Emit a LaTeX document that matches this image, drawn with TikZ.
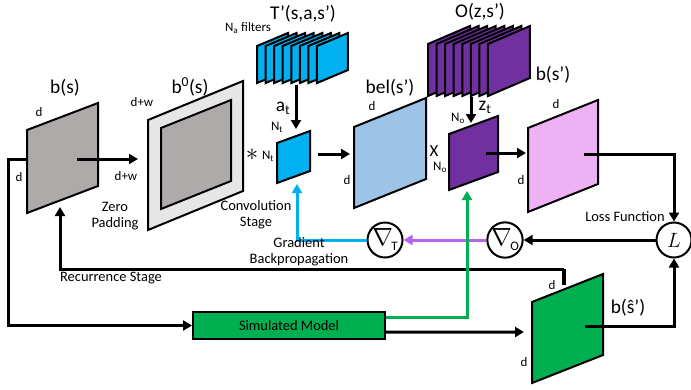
\documentclass[tikz,border=0pt]{standalone}
\usepackage{fontspec}
\setmainfont{Carlito}
\usetikzlibrary{arrows.meta}
\definecolor{pgray}{HTML}{AEAAAA}
\definecolor{lgray}{HTML}{E7E6E6}
\definecolor{pblue}{HTML}{00B0F0}
\definecolor{lblue}{HTML}{9DC3E6}
\definecolor{ppurple}{HTML}{7030A0}
\definecolor{ppink}{HTML}{EFB1F6}
\definecolor{pgreen}{HTML}{00B050}
\definecolor{pviolet}{HTML}{B464EE}
\newcommand\myplane[6]{\filldraw[plane,fill=#1] (#2,#3) -- ++(#4,-#6) -- ++(0,#5) -- ++(-#4,#6) -- cycle;}
\begin{document}
\begin{tikzpicture}[x=1bp,y=-1bp,
  plane/.style={draw=black,line width=2bp,line join=miter},
  conn/.style={line width=3bp},
  arr/.style={conn,-{Triangle[length=9bp,width=10bp]}},
  big/.style={font=\fontsize{19.5}{22}\selectfont,inner sep=0pt},
  mid/.style={font=\fontsize{14.5}{16}\selectfont,inner sep=0pt},
  sml/.style={font=\fontsize{13}{14}\selectfont,inner sep=0pt},
  circ/.style={circle,draw=black,line width=2bp,fill=white,minimum size=35bp,inner sep=0pt}]
\useasboundingbox (0,0) rectangle (691,389);
\fill[white] (0,0) rectangle (691,389);

% planes
\myplane{pgray}{27}{130}{71}{83}{27}
\myplane{lgray}{148}{120}{95}{110}{39}
\myplane{pgray}{161}{128}{70}{81}{28}
\foreach \k in {0,...,7}{\myplane{pblue}{257+8.57*\k}{46}{31}{37}{13}}
\myplane{pblue}{277}{143}{33}{40}{12}
\myplane{lblue}{354}{127}{72}{81}{29}
\foreach \k in {0,...,7}{\myplane{ppurple}{428+8.57*\k}{44}{42}{52}{18}}
\myplane{ppurple}{449}{134}{49}{56}{18}
\myplane{ppink}{528}{128}{70}{84}{28}
\myplane{pgreen}{532}{302}{71}{81}{28}

% nodes
\node[draw=black,line width=2bp,fill=pgreen,minimum width=192bp,minimum height=27bp,inner sep=0pt,font=\fontsize{14.5}{16}\selectfont] (SM) at (289,325.5) {Simulated Model};
\node[circ,font=\fontsize{22}{22}\selectfont] (L) at (674,240) {$L$};
\node[circ] (GO) at (505,240) {\fontsize{23}{23}\selectfont$\nabla$\hspace{-1.5bp}\raisebox{-5bp}{\fontsize{13}{13}\selectfont O}};
\node[circ] (GT) at (385,240) {\fontsize{23}{23}\selectfont$\nabla$\hspace{-1.5bp}\raisebox{-5bp}{\fontsize{13}{13}\selectfont T}};

% coordinates
\coordinate (bsc) at (77,159);
\coordinate (bsl) at (27,159);
\coordinate (b0in) at (138,159);
\coordinate (Tbot) at (296,85);
\coordinate (sqT) at (296,129);
\coordinate (sqTc) at (318,154);
\coordinate (belin) at (350,154);
\coordinate (Obot) at (471,97);
\coordinate (sqO) at (471,123);
\coordinate (sqOc) at (486,153);
\coordinate (pinkin) at (526,153);
\coordinate (pinkc) at (584,154);
\coordinate (sqTb) at (297,184);
\coordinate (sqOb) at (467,191);
\coordinate (gtop) at (564,285);
\coordinate (bsb) at (60,207);
\coordinate (gin) at (524,332);
\coordinate (gc) at (585,326);

% connectors
\draw[arr] (bsc) -- (b0in);
\draw[arr] (Tbot) -- (sqT);
\draw[arr] (sqTc) -- (belin);
\draw[arr] (Obot) -- (sqO);
\draw[arr] (sqOc) -- (pinkin);
\draw[arr] (pinkc) -| (L.north);
\draw[arr] (L.west) -- (GO.east);
\draw[arr,pviolet] (GO.west) -- (GT.east);
\draw[arr,pblue] (GT.west) -| (sqTb);
\draw[conn,line width=4bp] (gtop) -- (564,268.5);
\draw[arr] (564,269) -- (60,269) -- (bsb);
\draw[arr] (bsl) -- (8,159) |- (SM.west);
\draw[arr] ([yshift=-6.5bp]SM.east) -- (gin);
\draw[arr,pgreen] ([yshift=8.5bp]SM.east) -| (sqOb);
\draw[arr] (gc) -| (L.south);

% labels
\node[big] at (65,88) {b(s)};
\node[sml] at (39,112) {d};
\node[sml] at (19,177) {d};
\node[sml] at (126,176) {d+w};
\node[big] at (190,87) {b\textsuperscript{0}(s)};
\node[sml] at (142,102) {d+w};
\node[mid] at (115,207) {Zero};
\node[mid] at (115,224) {Padding};
\node[mid] at (256,206) {Convolution};
\node[mid] at (256,223) {Stage};
\node[mid] at (299,243) {Gradient};
\node[mid] at (299,260) {Backpropagation};
\node[mid] at (111,278) {Recurrence Stage};
\node[big] at (303,14) {T’(s,a,s’)};
\node[sml] at (248,28) {N\textsubscript{a} filters};
\node[big] at (283,108) {a\textsubscript{t}};
\node[sml] at (277,127) {N\textsubscript{t}};
\node[sml] at (268,156) {N\textsubscript{t}};
\node[font=\fontsize{30}{30}\selectfont,inner sep=0pt] at (252,155) {$\ast$};
\node[big] at (390,88) {bel(s’)};
\node[sml] at (372,106) {d};
\node[sml] at (347,180) {d};
\node[font=\fontsize{17}{17}\selectfont,inner sep=0pt] at (434,151) {X};
\node[sml] at (440,167) {N\textsubscript{o}};
\node[sml] at (458,118) {N\textsubscript{o}};
\node[big] at (485,107) {z\textsubscript{t}};
\node[big] at (480,12) {O(z,s’)};
\node[big] at (553,75) {b(s’)};
\node[sml] at (556,104) {d};
\node[sml] at (521,180) {d};
\node[mid] at (625,217) {Loss Function};
\node[sml] at (552,285) {d};
\node[sml] at (524,362) {d};
\node[big] at (628,308) {b(ŝ’)};
\end{tikzpicture}
\end{document}
